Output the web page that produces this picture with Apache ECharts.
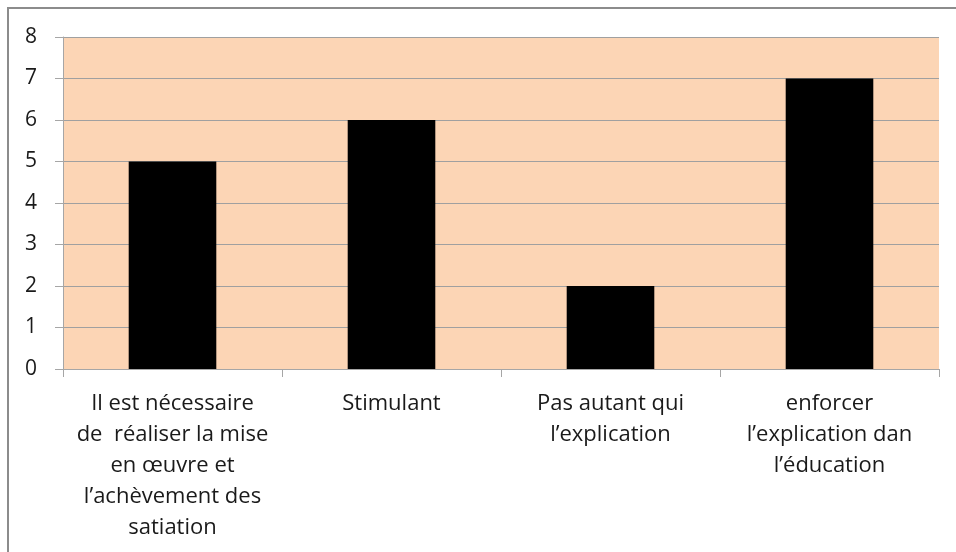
<!DOCTYPE html>
<html>
<head>
<meta charset="utf-8">
<script src="https://cdn.jsdelivr.net/npm/echarts@6/dist/echarts.min.js"></script>
<style>
  html, body { margin: 0; padding: 0; background: #fff; }
  #chart { width: 956px; height: 552px; }
</style>
</head>
<body>
<div id="chart"></div>
<script>
// catégories (retours à la ligne comme dans l'original)
var categories = [
    'Il est nécessaire\nde  réaliser la mise\nen œuvre et\nl\u2019achèvement des\nsatiation',
    'Stimulant',
    'Pas autant qui\nl\u2019explication',
    'enforcer\nl\u2019explication dan\nl\u2019éducation'
];
var values = [5, 6, 2, 7];
var yTicks = [0, 1, 2, 3, 4, 5, 6, 7, 8];

var chart = echarts.init(document.getElementById('chart'));
var option = {
    animation: false,
    backgroundColor: '#ffffff',
    textStyle: { fontFamily: 'Open Sans' },
    grid: {
        left: 63,
        top: 37,
        right: 17,
        bottom: 183,
        show: true,
        backgroundColor: '#FCD5B5',
        borderWidth: 0
    },
    graphic: [{
        type: 'rect',
        silent: true,
        z: -1,
        shape: { x: 8, y: 8, width: 1000, height: 600 },
        style: { fill: 'none', stroke: '#8c8c8c', lineWidth: 2 }
    }],
    xAxis: {
        type: 'category',
        data: categories,
        axisLine: { show: true, lineStyle: { color: '#a6a6a6', width: 1 } },
        axisTick: { show: true, length: 8, lineStyle: { color: '#a6a6a6' } },
        axisLabel: {
            interval: 0,
            margin: 19,
            color: '#1a1a1a',
            fontSize: 22,
            lineHeight: 31,
            fontFamily: 'Open Sans'
        },
        splitLine: { show: false }
    },
    yAxis: {
        type: 'value',
        min: yTicks[0],
        max: yTicks[yTicks.length - 1],
        interval: 1,
        axisLine: { show: true, lineStyle: { color: '#a6a6a6', width: 1 } },
        axisTick: { show: true, length: 8, lineStyle: { color: '#a6a6a6' } },
        axisLabel: {
            margin: 26,
            color: '#1a1a1a',
            fontSize: 21,
            fontFamily: 'Open Sans'
        },
        splitLine: { show: true, lineStyle: { color: '#a0a0a0', width: 1 } }
    },
    series: [{
        type: 'bar',
        data: values,
        barWidth: '40%',
        itemStyle: { color: '#000000' }
    }]
};
option && chart.setOption(option);
</script>
</body>
</html>
